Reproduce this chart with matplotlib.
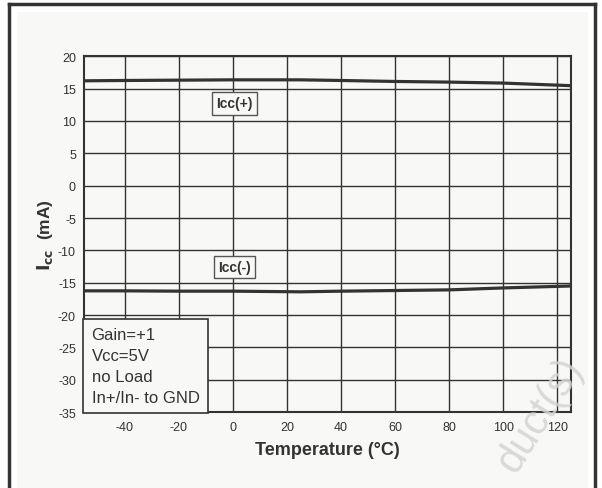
import matplotlib.pyplot as plt
from matplotlib.patches import Rectangle
from matplotlib.lines import Line2D

plt.rcParams['font.family'] = ['Liberation Sans', 'DejaVu Sans']
plt.rcParams['axes.unicode_minus'] = False

temp = [-55, -40, -20, 0, 25, 40, 60, 80, 100, 125]
icc_pos = [16.2, 16.25, 16.3, 16.35, 16.35, 16.25, 16.1, 16.0, 15.85, 15.45]
icc_neg = [-16.25, -16.25, -16.3, -16.3, -16.4, -16.3, -16.2, -16.1, -15.8, -15.5]
x_ticks = [-40, -20, 0, 20, 40, 60, 80, 100, 120]
y_ticks = [20, 15, 10, 5, 0, -5, -10, -15, -20, -25, -30, -35]
conditions = "Gain=+1\nVcc=5V\nno Load\nIn+/In- to GND"

dark = "#333333"
fig = plt.figure(figsize=(6.02, 4.89), dpi=100, facecolor="white")

# page panel and frame
fig.patches.append(Rectangle((17 / 602, 0), (588 - 17) / 602, 1 - 13 / 489,
                             transform=fig.transFigure, facecolor="#f8f8f6",
                             edgecolor="none", zorder=-5))
fr = dict(transform=fig.transFigure, color=dark, lw=2.5, zorder=-4)
fig.lines.append(Line2D([9 / 602, 9 / 602], [0, 1 - 5 / 489], **fr))
fig.lines.append(Line2D([9 / 602, 595 / 602], [1 - 5 / 489, 1 - 5 / 489], **fr))
fig.lines.append(Line2D([595 / 602, 595 / 602], [0, 1 - 5 / 489], **fr))

fig.text(0.897, 0.15, "duct(s)", fontsize=30, color="#d4d4d4", rotation=58,
         ha="center", va="center", zorder=10, alpha=0.85)

ax = fig.add_axes([0.140, 0.155, 0.808, 0.728])
ax.set_facecolor("#f8f8f6")
ax.plot(temp, icc_pos, color=dark, lw=2.3, zorder=3)
ax.plot(temp, icc_neg, color=dark, lw=2.3, zorder=3)

ax.set_xlim(-55, 125)
ax.set_ylim(-35, 20)
ax.set_xticks(x_ticks)
ax.set_yticks(y_ticks)
ax.tick_params(length=0, labelsize=9, colors=dark, pad=6)
ax.grid(True, color=dark, lw=1.0)
for s in ax.spines.values():
    s.set_color(dark)
    s.set_linewidth(1.5)

ax.set_xlabel("Temperature (°C)", fontsize=13, fontweight="bold", color=dark, labelpad=6)
ax.set_ylabel(r"$\mathbf{I_{cc}}$  (mA)", fontsize=12.5, fontweight="bold", color=dark, labelpad=2)

box = dict(boxstyle="square,pad=0.3", facecolor="#f8f8f6", edgecolor="#555555", lw=1)
ax.text(0.5, 12.7, "Icc(+)", ha="center", va="center", fontsize=10, fontweight="bold",
        color=dark, bbox=box, zorder=4)
ax.text(0.5, -12.6, "Icc(-)", ha="center", va="center", fontsize=10, fontweight="bold",
        color=dark, bbox=box, zorder=4)

ax.text(-52.3, -33.9, conditions, ha="left", va="bottom", fontsize=12, color=dark,
        linespacing=1.5, zorder=5,
        bbox=dict(boxstyle="square,pad=0.5", facecolor="#f8f8f6", edgecolor=dark, lw=1.2))

fig.savefig("out.png", dpi=100)
